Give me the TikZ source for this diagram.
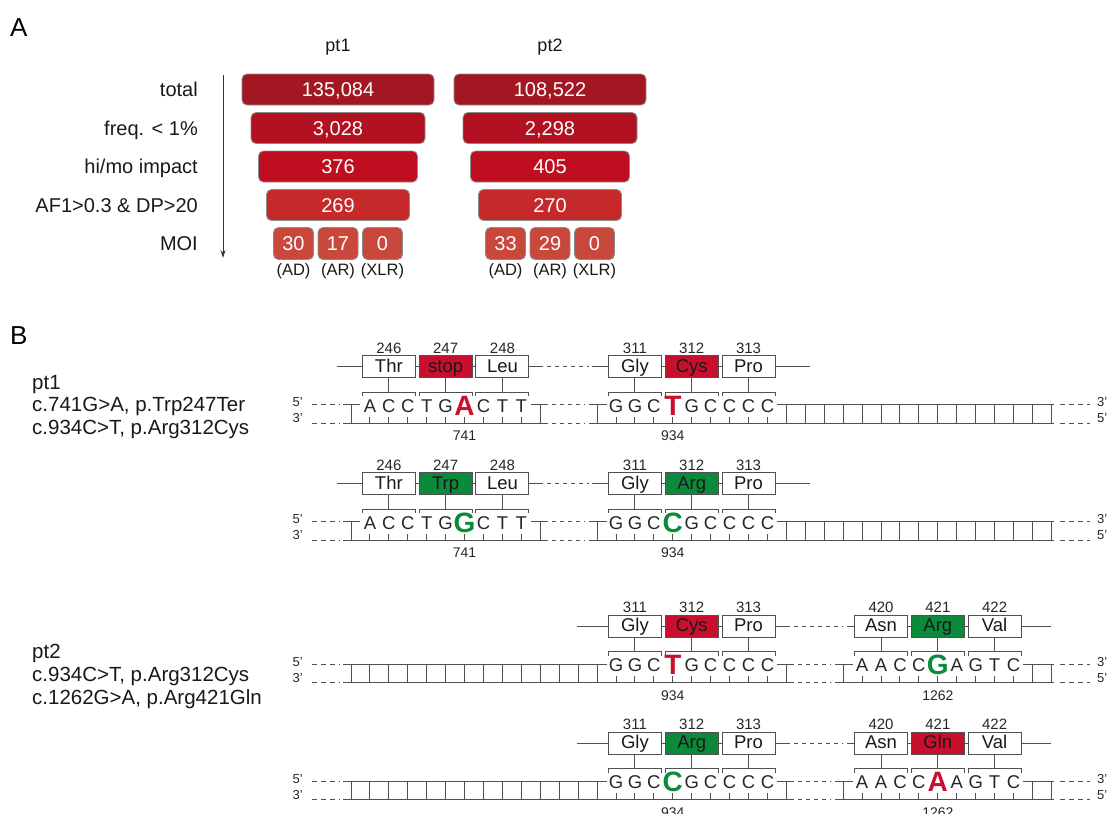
\documentclass[tikz,border=0pt]{standalone}
\usepackage{fontspec}
\setmainfont{Liberation Sans}
\usetikzlibrary{arrows.meta,calc}
\definecolor{cTot}{RGB}{163,23,34}
\definecolor{cFreq}{RGB}{178,17,33}
\definecolor{cImp}{RGB}{190,14,32}
\definecolor{cAF}{RGB}{197,41,42}
\definecolor{cMOI}{RGB}{200,72,60}
\definecolor{mutRed}{RGB}{200,16,46}
\definecolor{mutGreen}{RGB}{11,138,60}
\definecolor{lineGray}{RGB}{80,80,80}
\newcommand{\fsz}[1]{\fontsize{#1pt}{#1pt}\selectfont}
\newcommand{\gx}[1]{(351+18.93*(#1))}
\tikzset{
  funnel/.style={rounded corners=5pt, draw=black!45, line width=0.8pt, text=white, minimum height=31pt, inner sep=0pt, text height=14.3pt, text depth=0pt, font=\fsz{20}},
  moibox/.style={funnel, fill=cMOI, minimum width=40pt, minimum height=32pt},
  rowlab/.style={anchor=base east, inner sep=0pt, font=\fsz{20}, text=black!90},
  headlab/.style={font=\fsz{18}, inner sep=0pt, text=black!90},
  moilab/.style={font=\fsz{16.5}, inner sep=0pt, text=black!90},
  panel/.style={font=\fsz{26}, inner sep=0pt, anchor=west},
  strand/.style={draw=lineGray, line width=1pt},
  dstrand/.style={strand, dash pattern=on 4pt off 4pt},
  edash/.style={strand, dash pattern=on 5pt off 4pt},
  aabox/.style={draw=lineGray, line width=1pt, fill=white, minimum width=53pt, minimum height=22pt, inner sep=0pt, text height=13pt, text depth=1.5pt, font=\fsz{18.5}, text=black!90},
  redbox/.style={aabox, fill=mutRed},
  greenbox/.style={aabox, fill=mutGreen},
  numlab/.style={font=\fsz{15}, inner sep=0pt, text=black!85},
  poslab/.style={font=\fsz{14}, inner sep=0pt, text=black!85},
  ntx/.style={font=\fsz{18.5}, inner sep=0pt, anchor=base, text=black!85},
  mutx/.style={font=\bfseries\fsz{28}, inner sep=0pt, anchor=base},
  endlab/.style={font=\fsz{13}, inner sep=0pt, text=black!85},
  infolab/.style={font=\fsz{20.5}, inner sep=0pt, anchor=base west, text=black!90},
}
% codon box: #1 name, #2 y_t, #3 k, #4 style, #5 aa, #6 number
\newcommand{\codon}[6]{%
  \node[#4] (#1) at ({\gx{#3}}, #2-38) {#5};
  \node[numlab] (#1num) at ({\gx{#3}}, #2-56.5) {#6};
  \draw[strand] (#1.south) -- ({\gx{#3}}, #2-12.5);
  \draw[strand] ({\gx{#3}-26.5}, #2-8.5) |- ({\gx{#3}+26.5}, #2-12.5) -- ({\gx{#3}+26.5}, #2-8.5);
}
% nucleotides: #1 prefix, #2 y_t, #3 first k, #4 list, #5 mutated index, #6 colour
\newcommand{\ntrow}[6]{%
  \foreach \L [count=\i from 1] in {#4} {
    \ifnum\i=#5\relax
      \node[mutx, text=#6] (#1\i) at ({\gx{#3+\i-1}}, #2+10.5) {\L};
    \else
      \node[ntx] (#1\i) at ({\gx{#3+\i-1}}, #2+7.8) {\L};
    \fi
    \draw[strand] ({\gx{#3+\i-1}}, #2+18.5) -- ++(0,-6.5);
  }
}
% strand section: #1 y_t, #2 first rung, #3 first letter, #4 last letter, #5 last rung, #6 right extension
\newcommand{\dnasec}[6]{%
  \pgfmathtruncatemacro{\kbm}{#3-1}
  \pgfmathtruncatemacro{\kcp}{#4+1}
  \draw[strand] ({\gx{#2}-8}, #1+18.5) -- ({\gx{#5}+#6}, #1+18.5);
  \draw[strand] ({\gx{#2}-8}, #1) -- ({\gx{#3}-9.5}, #1);
  \draw[strand] ({\gx{#4}+9.5}, #1) -- ({\gx{#5}+#6}, #1);
  \foreach \k in {#2,...,\kbm} {\draw[strand] ({\gx{\k}}, #1) -- ++(0,18.5);}
  \foreach \k in {\kcp,...,#5} {\draw[strand] ({\gx{\k}}, #1) -- ++(0,18.5);}
}
% end labels and outer dashes: #1 y_t
\newcommand{\strandends}[1]{%
  \draw[edash] (312, #1) -- (340, #1);
  \draw[edash] (312, #1+18.5) -- (340, #1+18.5);
  \draw[edash] ({\gx{37}+9}, #1) -- (1090, #1);
  \draw[edash] ({\gx{37}+9}, #1+18.5) -- (1090, #1+18.5);
  \node[endlab, anchor=east] at (303, #1-2) {5’};
  \node[endlab, anchor=east] at (303, #1+14) {3’};
  \node[endlab, anchor=west] at (1097, #1-2) {3’};
  \node[endlab, anchor=west] at (1097, #1+14) {5’};
}
\begin{document}
\begin{tikzpicture}[x=1pt, y=-1pt]
\useasboundingbox (0,0) rectangle (1112,814);

% ---------------- Panel A ----------------
\node[panel] (labA) at (10,28) {A};
\node[headlab] (h1) at (338,47) {pt1};
\node[headlab] (h2) at (550,47) {pt2};
\node[rowlab] (lt) at (198,96.5) {total};
\node[rowlab] (lf) at (198,135) {freq. < 1\%};
\node[rowlab] (lh) at (198,173.5) {hi/mo impact};
\node[rowlab] (la) at (198,212) {AF1>0.3 \& DP>20};
\node[rowlab] (lm) at (198,250.5) {MOI};
\coordinate (arTop) at (223,75);
\coordinate (arBot) at (223,258);
\draw[line width=1pt, draw=black!80, -{Stealth[length=8pt,width=5pt]}] (arTop) -- (arBot);

\node[funnel, fill=cTot, minimum width=192pt] (a1t) at (338,89.5) {135,084};
\node[funnel, fill=cFreq, minimum width=174pt] (a1f) at (338,128) {3,028};
\node[funnel, fill=cImp, minimum width=159pt] (a1h) at (338,166.5) {376};
\node[funnel, fill=cAF, minimum width=143pt] (a1a) at (338,205) {269};
\node[moibox] (a1m1) at (293.5,243.5) {30};
\node[moibox] (a1m2) at (338,243.5) {17};
\node[moibox] (a1m3) at (382.5,243.5) {0};
\node[moilab] (a1l1) at (293.5,271) {(AD)};
\node[moilab] (a1l2) at (338,271) {(AR)};
\node[moilab] (a1l3) at (382.5,271) {(XLR)};

\node[funnel, fill=cTot, minimum width=192pt] (a2t) at (550,89.5) {108,522};
\node[funnel, fill=cFreq, minimum width=174pt] (a2f) at (550,128) {2,298};
\node[funnel, fill=cImp, minimum width=159pt] (a2h) at (550,166.5) {405};
\node[funnel, fill=cAF, minimum width=143pt] (a2a) at (550,205) {270};
\node[moibox] (a2m1) at (505.5,243.5) {33};
\node[moibox] (a2m2) at (550,243.5) {29};
\node[moibox] (a2m3) at (594.5,243.5) {0};
\node[moilab] (a2l1) at (505.5,271) {(AD)};
\node[moilab] (a2l2) at (550,271) {(AR)};
\node[moilab] (a2l3) at (594.5,271) {(XLR)};

% ---------------- Panel B ----------------
\node[panel] (labB) at (10,336) {B};
\node[infolab] (i1) at (32,389) {pt1};
\node[infolab] (i2) at (32,411.5) {c.741G>A, p.Trp247Ter};
\node[infolab] (i3) at (32,434) {c.934C>T, p.Arg312Cys};
\node[infolab] (i4) at (32,658) {pt2};
\node[infolab] (i5) at (32,681) {c.934C>T, p.Arg312Cys};
\node[infolab] (i6) at (32,704) {c.1262G>A, p.Arg421Gln};

% ---- row 1 (pt1, mutant) ----
\def\yt{404.5}
\strandends{\yt}
\dnasec{\yt}{0}{1}{9}{10}{8}
\dnasec{\yt}{13}{14}{22}{37}{3}
\draw[dstrand] ({\gx{10}+12}, \yt) -- ({\gx{13}-12}, \yt);
\draw[dstrand] ({\gx{10}+12}, \yt+18.5) -- ({\gx{13}-12}, \yt+18.5);
\ntrow{ra}{\yt}{1}{A,C,C,T,G,A,C,T,T}{6}{mutRed}
\ntrow{rb}{\yt}{14}{G,G,C,T,G,C,C,C,C}{4}{mutRed}
\codon{ac1}{\yt}{2}{aabox}{Thr}{246}
\codon{ac2}{\yt}{5}{redbox}{stop}{247}
\codon{ac3}{\yt}{8}{aabox}{Leu}{248}
\codon{ac4}{\yt}{15}{aabox}{Gly}{311}
\codon{ac5}{\yt}{18}{redbox}{Cys}{312}
\codon{ac6}{\yt}{21}{aabox}{Pro}{313}
\coordinate (ap0) at (337,\yt-38);
\coordinate (ap7) at (810,\yt-38);
\draw[strand] (ap0) -- (ac1.west) (ac1.east) -- (ac2.west) (ac2.east) -- (ac3.west) (ac3.east) -- ++(14,0)
  (ac4.west) -- ++(-15.5,0) (ac4.east) -- (ac5.west) (ac5.east) -- (ac6.west) (ac6.east) -- (ap7);
\draw[dstrand] ($(ac3.east)+(18,0)$) -- ($(ac4.west)+(-19,0)$);
\node[poslab] (ap741) at ({\gx{6}}, \yt+31.5) {741};
\node[poslab] (ap934) at ({\gx{17}}, \yt+31.5) {934};

% ---- row 2 (pt1, wild type) ----
\def\yt{521.5}
\strandends{\yt}
\dnasec{\yt}{0}{1}{9}{10}{8}
\dnasec{\yt}{13}{14}{22}{37}{3}
\draw[dstrand] ({\gx{10}+12}, \yt) -- ({\gx{13}-12}, \yt);
\draw[dstrand] ({\gx{10}+12}, \yt+18.5) -- ({\gx{13}-12}, \yt+18.5);
\ntrow{rc}{\yt}{1}{A,C,C,T,G,G,C,T,T}{6}{mutGreen}
\ntrow{rd}{\yt}{14}{G,G,C,C,G,C,C,C,C}{4}{mutGreen}
\codon{bc1}{\yt}{2}{aabox}{Thr}{246}
\codon{bc2}{\yt}{5}{greenbox}{Trp}{247}
\codon{bc3}{\yt}{8}{aabox}{Leu}{248}
\codon{bc4}{\yt}{15}{aabox}{Gly}{311}
\codon{bc5}{\yt}{18}{greenbox}{Arg}{312}
\codon{bc6}{\yt}{21}{aabox}{Pro}{313}
\coordinate (bp0) at (337,\yt-38);
\coordinate (bp7) at (810,\yt-38);
\draw[strand] (bp0) -- (bc1.west) (bc1.east) -- (bc2.west) (bc2.east) -- (bc3.west) (bc3.east) -- ++(14,0)
  (bc4.west) -- ++(-15.5,0) (bc4.east) -- (bc5.west) (bc5.east) -- (bc6.west) (bc6.east) -- (bp7);
\draw[dstrand] ($(bc3.east)+(18,0)$) -- ($(bc4.west)+(-19,0)$);
\node[poslab] (bp741) at ({\gx{6}}, \yt+31.5) {741};
\node[poslab] (bp934) at ({\gx{17}}, \yt+31.5) {934};

% ---- row 3 (pt2, mutant) ----
\def\yt{664}
\strandends{\yt}
\dnasec{\yt}{0}{14}{22}{23}{8}
\dnasec{\yt}{26}{27}{35}{37}{3}
\draw[dstrand] ({\gx{23}+12}, \yt) -- ({\gx{26}-12}, \yt);
\draw[dstrand] ({\gx{23}+12}, \yt+18.5) -- ({\gx{26}-12}, \yt+18.5);
\ntrow{re}{\yt}{14}{G,G,C,T,G,C,C,C,C}{4}{mutRed}
\ntrow{rf}{\yt}{27}{A,A,C,C,G,A,G,T,C}{5}{mutGreen}
\codon{cc1}{\yt}{15}{aabox}{Gly}{311}
\codon{cc2}{\yt}{18}{redbox}{Cys}{312}
\codon{cc3}{\yt}{21}{aabox}{Pro}{313}
\codon{cc4}{\yt}{28}{aabox}{Asn}{420}
\codon{cc5}{\yt}{31}{greenbox}{Arg}{421}
\codon{cc6}{\yt}{34}{aabox}{Val}{422}
\coordinate (cp0) at (577,\yt-38);
\coordinate (cp7) at (1051,\yt-38);
\draw[strand] (cp0) -- (cc1.west) (cc1.east) -- (cc2.west) (cc2.east) -- (cc3.west) (cc3.east) -- ++(14,0)
  (cc4.west) -- ++(-7,0) (cc4.east) -- (cc5.west) (cc5.east) -- (cc6.west) (cc6.east) -- (cp7);
\draw[dstrand] ($(cc3.east)+(18,0)$) -- ($(cc4.west)+(-11,0)$);
\node[poslab] (cp934) at ({\gx{17}}, \yt+31.5) {934};
\node[poslab] (cp1262) at ({\gx{31}}, \yt+31.5) {1262};

% ---- row 4 (pt2, wild type) ----
\def\yt{781}
\strandends{\yt}
\dnasec{\yt}{0}{14}{22}{23}{8}
\dnasec{\yt}{26}{27}{35}{37}{3}
\draw[dstrand] ({\gx{23}+12}, \yt) -- ({\gx{26}-12}, \yt);
\draw[dstrand] ({\gx{23}+12}, \yt+18.5) -- ({\gx{26}-12}, \yt+18.5);
\ntrow{rg}{\yt}{14}{G,G,C,C,G,C,C,C,C}{4}{mutGreen}
\ntrow{rh}{\yt}{27}{A,A,C,C,A,A,G,T,C}{5}{mutRed}
\codon{dc1}{\yt}{15}{aabox}{Gly}{311}
\codon{dc2}{\yt}{18}{greenbox}{Arg}{312}
\codon{dc3}{\yt}{21}{aabox}{Pro}{313}
\codon{dc4}{\yt}{28}{aabox}{Asn}{420}
\codon{dc5}{\yt}{31}{redbox}{Gln}{421}
\codon{dc6}{\yt}{34}{aabox}{Val}{422}
\coordinate (dp0) at (577,\yt-38);
\coordinate (dp7) at (1051,\yt-38);
\draw[strand] (dp0) -- (dc1.west) (dc1.east) -- (dc2.west) (dc2.east) -- (dc3.west) (dc3.east) -- ++(14,0)
  (dc4.west) -- ++(-7,0) (dc4.east) -- (dc5.west) (dc5.east) -- (dc6.west) (dc6.east) -- (dp7);
\draw[dstrand] ($(dc3.east)+(18,0)$) -- ($(dc4.west)+(-11,0)$);
\node[poslab] (dp934) at ({\gx{17}}, \yt+31.5) {934};
\node[poslab] (dp1262) at ({\gx{31}}, \yt+31.5) {1262};
\end{tikzpicture}
\end{document}
